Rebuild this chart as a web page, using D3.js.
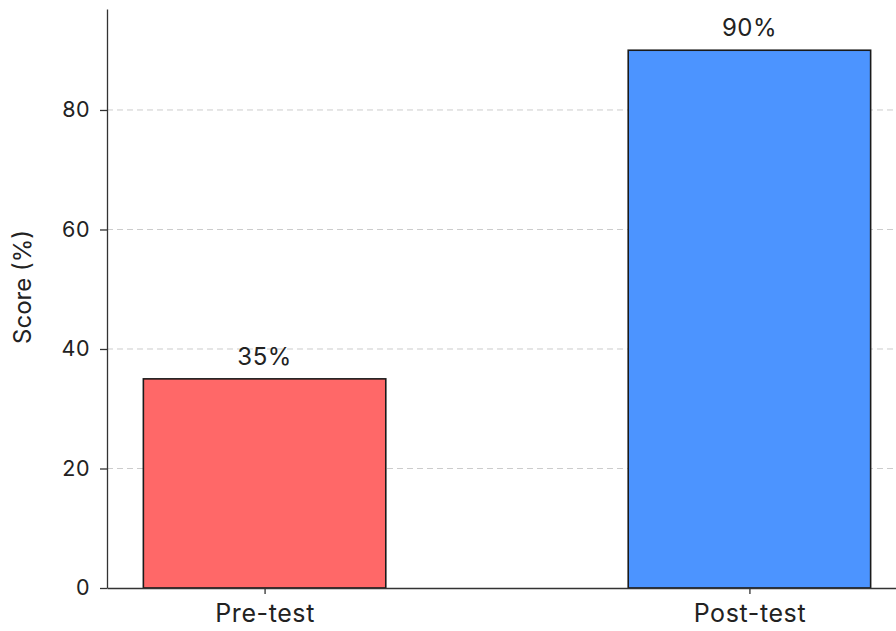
<!DOCTYPE html>
<html>
<head>
<meta charset="utf-8">
<script src="https://cdn.jsdelivr.net/npm/d3@7"></script>
<style>
  body { margin: 0; background: #fff; }
  svg text { font-family: Inter, "Open Sans", sans-serif; fill: #222; }
  .axis path, .axis line { stroke: #333; stroke-width: 1.3; }
  .grid line { stroke: #cccccc; stroke-dasharray: 6,4; stroke-width: 1; }
</style>
</head>
<body>
<div id="chart"></div>
<script>
// data
const phases = ["Pre-test", "Post-test"];
const scores = [35, 90];
const barColors = ["#ff6868", "#4c94ff"];
const yTicks = [0, 20, 40, 60, 80];

const totalW = 896, totalH = 631;
const plotLeft = 107, plotBottom = 588, plotTop = 9, plotRight = 907;

const svg = d3.select("#chart").append("svg")
  .attr("width", totalW)
  .attr("height", totalH);

// x runs from -0.325 to 1.325 in category units, bar width 0.5
const xPos = d3.scaleLinear().domain([-0.325, 1.325]).range([plotLeft, plotRight]);
const y = d3.scaleLinear().domain([0, 96.9]).range([plotBottom, plotTop]);
const barW = xPos(0.5) - xPos(0);

// grid
svg.append("g").attr("class", "grid")
  .selectAll("line").data(yTicks.filter(d => d > 0)).enter().append("line")
  .attr("x1", plotLeft).attr("x2", totalW)
  .attr("y1", d => y(d)).attr("y2", d => y(d));

// bars
svg.append("g").selectAll("rect").data(scores).enter().append("rect")
  .attr("x", (d, i) => xPos(i) - barW / 2)
  .attr("width", barW)
  .attr("y", d => y(d))
  .attr("height", d => y(0) - y(d))
  .attr("fill", (d, i) => barColors[i])
  .attr("stroke", "#1a1a1a")
  .attr("stroke-width", 1.6);

// value labels
svg.append("g").selectAll("text").data(scores).enter().append("text")
  .attr("x", (d, i) => xPos(i))
  .attr("y", d => y(d) - 14)
  .attr("text-anchor", "middle")
  .style("font-size", "24px")
  .style("letter-spacing", "0.5px")
  .text(d => d + "%");

// y axis
const yAxis = svg.append("g")
  .attr("class", "axis")
  .attr("transform", "translate(" + plotLeft + ",0)")
  .call(d3.axisLeft(y).tickValues(yTicks).tickSize(7).tickPadding(10).tickSizeOuter(0));
yAxis.selectAll("text").style("font-size", "21.5px").style("letter-spacing", "0.5px").attr("fill", "#222");

// x axis
const xAxis = svg.append("g")
  .attr("class", "axis")
  .attr("transform", "translate(0," + plotBottom + ")")
  .call(d3.axisBottom(xPos).tickValues([0, 1]).tickFormat((d) => phases[d]).tickSize(6).tickPadding(10).tickSizeOuter(0));
xAxis.selectAll("text").style("font-size", "25px").style("letter-spacing", "0.6px").attr("fill", "#222");

// y label
svg.append("text")
  .attr("transform", "translate(31,287) rotate(-90)")
  .attr("text-anchor", "middle")
  .style("font-size", "24px")
  .text("Score (%)");
</script>
</body>
</html>
